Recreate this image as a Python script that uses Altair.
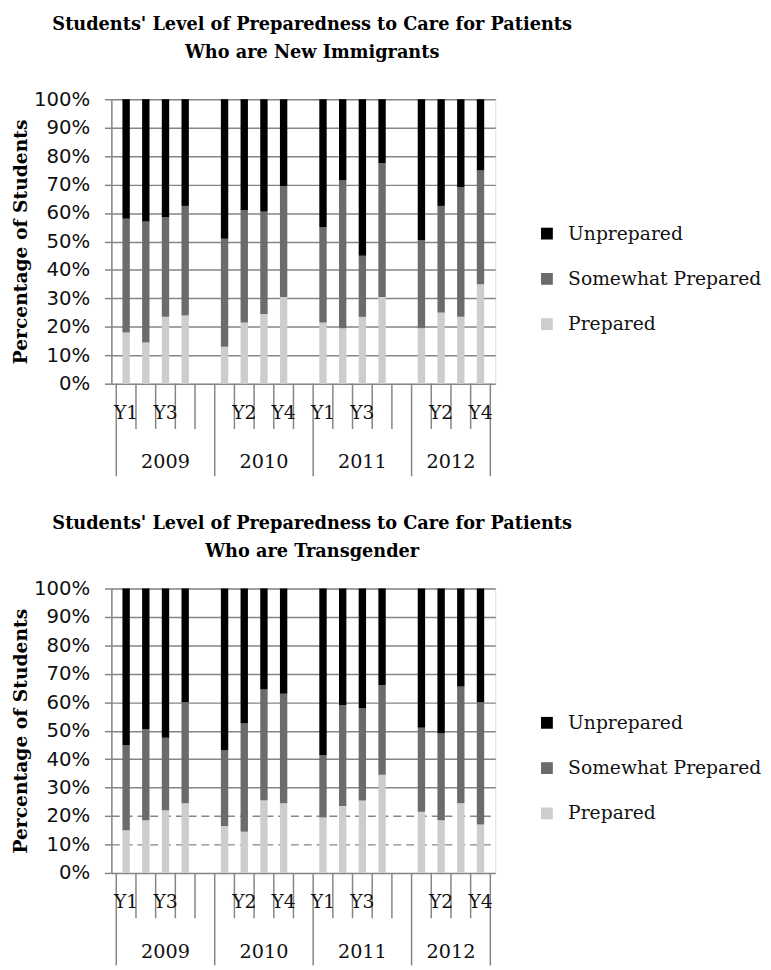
import altair as alt
import pandas as pd

years = ["2009", "2010", "2011", "2012"]
levels = ["Y1", "Y2", "Y3", "Y4"]
series = ["Unprepared", "Somewhat Prepared", "Prepared"]
colors = ["#000000", "#6b6b6b", "#cdcdcd"]

title_common = "Students' Level of Preparedness to Care for Patients"
title_top = "Who are New Immigrants"
title_bottom = "Who are Transgender"
y_title = "Percentage of Students"

# New immigrants (percent), order: 2009 Y1..Y4, 2010 Y1..Y4, 2011 ..., 2012 ...
imm_prepared = [18, 14.5, 23.5, 24, 13, 21.5, 24.5, 30.5, 21.5, 19.5, 23.5, 30.5, 19.5, 25, 23.5, 35]
imm_somewhat = [40, 42.5, 35, 38.5, 38, 39.5, 36, 39, 33.5, 52, 21.5, 47, 31, 37.5, 45.5, 40]
imm_unprepared = [42, 43, 41.5, 37.5, 49, 39, 39.5, 30.5, 45, 28.5, 55, 22.5, 49.5, 37.5, 31, 25]

# Transgender (percent)
tg_prepared = [15, 18.5, 22, 24.5, 16.5, 14.5, 25.5, 24.5, 19.5, 23.5, 25.5, 34.5, 21.5, 18.5, 24.5, 17]
tg_somewhat = [30, 32, 25.5, 35.5, 26.5, 38, 39, 38.5, 22, 35.5, 32.5, 31.5, 29.5, 30.5, 41, 43]
tg_unprepared = [55, 49.5, 52.5, 40, 57, 47.5, 35.5, 37, 58.5, 41, 42, 34, 49, 51, 34.5, 40]

y_ticks = [0, 0.1, 0.2, 0.3, 0.4, 0.5, 0.6, 0.7, 0.8, 0.9, 1.0]

W = 390
H = 289
GRID = "#858585"
SERIF = "DejaVu Serif"

# slots: each year has 4 bars + 1 empty slot (last year has no trailing empty slot)
n_slots = len(years) * 5 - 1
xscale = alt.Scale(domain=[0, n_slots], nice=False, zero=False)

rows = []
for yi, yr in enumerate(years):
    for li, lv in enumerate(levels):
        rows.append(dict(slot=yi * 5 + li, k=yi * 4 + li))

label_rows = []
for s in range(n_slots):
    yi, li = divmod(s, 5)
    if s % 2 == 0 and li < 4:
        label_rows.append(dict(xc=s + 0.5, lab=levels[li]))
labels_df = pd.DataFrame(label_rows)

short_ticks = pd.DataFrame({"b": [b for b in range(1, n_slots) if b % 5 != 0]})
long_ticks = pd.DataFrame({"b": [b for b in range(0, n_slots + 1) if b % 5 == 0] + [n_slots]})
year_df = pd.DataFrame({
    "yr": years,
    "xc": [(i * 5 + min(i * 5 + 5, n_slots)) / 2 for i in range(len(years))],
})


def make_chart(line2, prepared, somewhat, unprepared, dashed, title_y):
    recs = []
    for r in rows:
        k = r["k"]
        for si, (name, vals) in enumerate(
            [("Prepared", prepared), ("Somewhat Prepared", somewhat), ("Unprepared", unprepared)]
        ):
            recs.append(dict(x=r["slot"] + 0.5, series=name, value=vals[k], order=si))
    df = pd.DataFrame(recs)

    axis_kwargs = dict(
        values=y_ticks, format=".0%", title=y_title,
        grid=True, gridColor=GRID, gridWidth=1.5,
        domainColor=GRID, domainWidth=1.5, tickColor=GRID, tickWidth=1.5, tickSize=7,
        labelFont="DejaVu Sans", labelFontSize=20, labelColor="#111111", labelPadding=15,
        titleFont=SERIF, titleFontWeight="bold", titleFontSize=19, titleColor="#000000",
        titlePadding=3,
    )
    if dashed:
        axis_kwargs["gridDash"] = {
            "condition": {"test": "datum.value > 0.05 && datum.value < 0.25", "value": [8, 5]},
            "value": [],
        }

    bars = alt.Chart(df).mark_bar(size=7.5).encode(
        x=alt.X("x:Q", scale=xscale, axis=None),
        y=alt.Y("value:Q", stack="normalize", scale=alt.Scale(domain=[0, 1]),
                axis=alt.Axis(**axis_kwargs)),
        color=alt.Color(
            "series:N",
            scale=alt.Scale(domain=series, range=colors),
            legend=alt.Legend(
                title=None, orient="none", legendX=433, legendY=127, padding=0,
                symbolType="square", symbolSize=144, symbolStrokeWidth=0,
                labelFont=SERIF, labelFontSize=19, labelColor="#111111",
                labelOffset=12, rowPadding=26, labelLimit=400,
            ),
        ),
        order=alt.Order("order:Q"),
    )

    st = alt.Chart(short_ticks).mark_rule(color=GRID, strokeWidth=1.5).encode(
        x=alt.X("b:Q", scale=xscale, axis=None),
        y=alt.value(H), y2=alt.value(H + 46),
    )
    lt = alt.Chart(long_ticks).mark_rule(color=GRID, strokeWidth=1.5).encode(
        x=alt.X("b:Q", scale=xscale, axis=None),
        y=alt.value(H), y2=alt.value(H + 94),
    )
    lab = alt.Chart(labels_df).mark_text(font=SERIF, fontSize=19, color="#111111", baseline="middle").encode(
        x=alt.X("xc:Q", scale=xscale, axis=None),
        y=alt.value(H + 30),
        text="lab:N",
    )
    yrs = alt.Chart(year_df).mark_text(font=SERIF, fontSize=19.5, color="#111111", baseline="middle").encode(
        x=alt.X("xc:Q", scale=xscale, axis=None),
        y=alt.value(H + 80),
        text="yr:N",
    )

    t1 = alt.Chart(pd.DataFrame({"t": [title_common]})).mark_text(
        font=SERIF, fontWeight="bold", fontSize=18, color="#000000", align="center", baseline="alphabetic"
    ).encode(x=alt.value(W / 2 + 9), y=alt.value(title_y), text="t:N")
    t2 = alt.Chart(pd.DataFrame({"t": [line2]})).mark_text(
        font=SERIF, fontWeight="bold", fontSize=18, color="#000000", align="center", baseline="alphabetic"
    ).encode(x=alt.value(W / 2 + 9), y=alt.value(title_y + 28), text="t:N")

    return alt.layer(bars, st, lt, lab, yrs, t1, t2).properties(width=W, height=H)


top = make_chart(title_top, imm_prepared, imm_somewhat, imm_unprepared, False, -70)
bottom = make_chart(title_bottom, tg_prepared, tg_somewhat, tg_unprepared, True, -60)

chart = alt.vconcat(
    top, bottom, spacing=37, padding={"left": 3, "top": 0, "right": 0, "bottom": 0}
).resolve_scale(color="independent").resolve_legend(
    color="independent"
).configure_view(stroke=None).configure(background="white")

chart.save("out.html", embed_options={"renderer": "svg", "actions": False})
